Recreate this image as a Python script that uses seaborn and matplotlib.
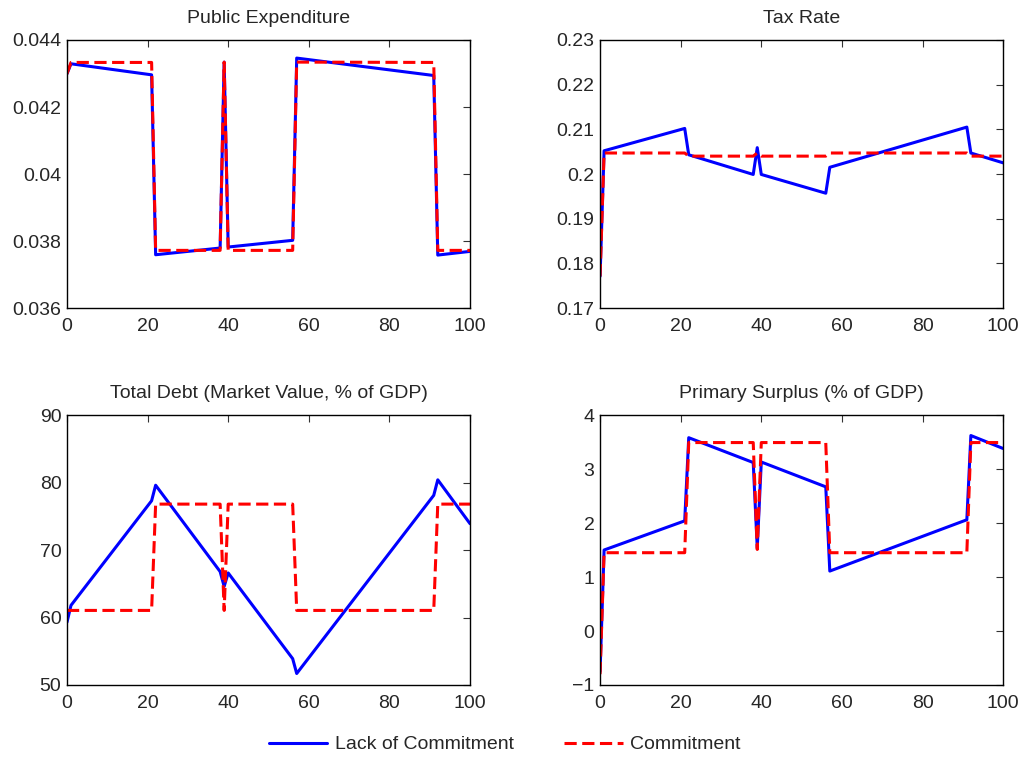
#!/usr/bin/env python3

import pandas as pd
import seaborn as sns
from matplotlib import pyplot as plt
from matplotlib.lines import Line2D

# breakpoints of the simulated paths (periods)
periods = [0, 1, 21, 22, 38, 39, 40, 56, 57, 91, 92, 100]

spend_lack = [0.04299, 0.04329, 0.04296, 0.03759, 0.03779, 0.04334, 0.03782, 0.03802, 0.04346, 0.04294, 0.03758, 0.03769]
spend_comm = [0.04299, 0.04333, 0.04333, 0.03772, 0.03772, 0.04334, 0.03772, 0.03772, 0.04334, 0.04333, 0.03772, 0.03772]

tax_lack = [0.1771, 0.2052, 0.2102, 0.2043, 0.1999, 0.2059, 0.1999, 0.1957, 0.2015, 0.2105, 0.2047, 0.2025]
tax_comm = [0.1771, 0.2047, 0.2047, 0.2040, 0.2040, 0.2047, 0.2040, 0.2040, 0.2047, 0.2047, 0.2040, 0.2040]

debt_lack = [59.3, 61.8, 77.3, 79.6, 66.8, 64.6, 66.6, 53.9, 51.7, 78.1, 80.4, 73.9]
debt_comm = [61.05, 61.05, 61.05, 76.8, 76.8, 61.05, 76.8, 76.8, 61.05, 61.05, 76.8, 76.8]

surplus_lack = [-0.75, 1.50, 2.04, 3.58, 3.12, 1.54, 3.13, 2.67, 1.11, 2.06, 3.62, 3.38]
surplus_comm = [-0.80, 1.45, 1.45, 3.49, 3.49, 1.51, 3.49, 3.49, 1.45, 1.45, 3.49, 3.49]

titles = ["Public Expenditure", "Tax Rate", "Total Debt (Market Value, % of GDP)", "Primary Surplus (% of GDP)"]
series_names = ["Lack of Commitment", "Commitment"]

y_ticks = [
    ([0.036, 0.038, 0.04, 0.042, 0.044], ["0.036", "0.038", "0.04", "0.042", "0.044"]),
    ([0.17, 0.18, 0.19, 0.2, 0.21, 0.22, 0.23], ["0.17", "0.18", "0.19", "0.2", "0.21", "0.22", "0.23"]),
    ([50, 60, 70, 80, 90], ["50", "60", "70", "80", "90"]),
    ([-1, 0, 1, 2, 3, 4], ["\u22121", "0", "1", "2", "3", "4"]),
]
x_ticks = [0, 20, 40, 60, 80, 100]


def main():
    panels = [(spend_lack, spend_comm), (tax_lack, tax_comm), (debt_lack, debt_comm), (surplus_lack, surplus_comm)]

    sns.set_style("white")
    plt.rcParams["font.family"] = ["Liberation Sans", "DejaVu Sans"]
    plt.rcParams["font.size"] = 14

    fig = plt.figure(figsize=(10.24, 7.59), dpi=100)
    positions = [
        [0.0654, 0.5942, 0.3936, 0.3531],
        [0.5860, 0.5942, 0.3936, 0.3531],
        [0.0654, 0.0975, 0.3936, 0.3557],
        [0.5860, 0.0975, 0.3936, 0.3557],
    ]
    palette = {series_names[0]: "#0000ff", series_names[1]: "#ff0000"}
    dashes = {series_names[0]: "", series_names[1]: (4, 1.8)}

    for i, (lack, comm) in enumerate(panels):
        ax = fig.add_axes(positions[i])
        df = pd.DataFrame({
            "t": periods + periods,
            "value": lack + comm,
            "series": [series_names[0]] * len(periods) + [series_names[1]] * len(periods),
        })
        sns.lineplot(df, x="t", y="value", hue="series", style="series", palette=palette,
                     dashes=dashes, estimator=None, linewidth=2.2, ax=ax, legend=False)
        ticks, labels = y_ticks[i]
        ax.set_ylim(ticks[0], ticks[-1])
        ax.set_xlim(0, 100)
        ax.set_yticks(ticks, labels)
        ax.set_xticks(x_ticks, [str(v) for v in x_ticks])
        ax.set_xlabel("")
        ax.set_ylabel("")
        ax.set_title(titles[i], fontsize=14, pad=12)
        ax.tick_params(direction="in", top=True, right=True, length=5, width=0.8,
                       labelsize=14, color="#333333")
        ax.tick_params(axis="x", pad=7)
        ax.tick_params(axis="y", pad=4)
        for s in ax.spines.values():
            s.set_color("black")
            s.set_linewidth(1.0)

    handles = [Line2D([], [], color="#0000ff", lw=2.2),
               Line2D([], [], color="#ff0000", lw=2.2, dashes=(4, 1.8))]
    fig.legend(handles, series_names, loc="center", bbox_to_anchor=(0.493, 0.019), ncol=2,
               frameon=False, fontsize=14, handlelength=3.0, handletextpad=0.4, columnspacing=2.6)

    fig.savefig("out.png", dpi=100)
    plt.close()


if __name__ == '__main__':
    main()
